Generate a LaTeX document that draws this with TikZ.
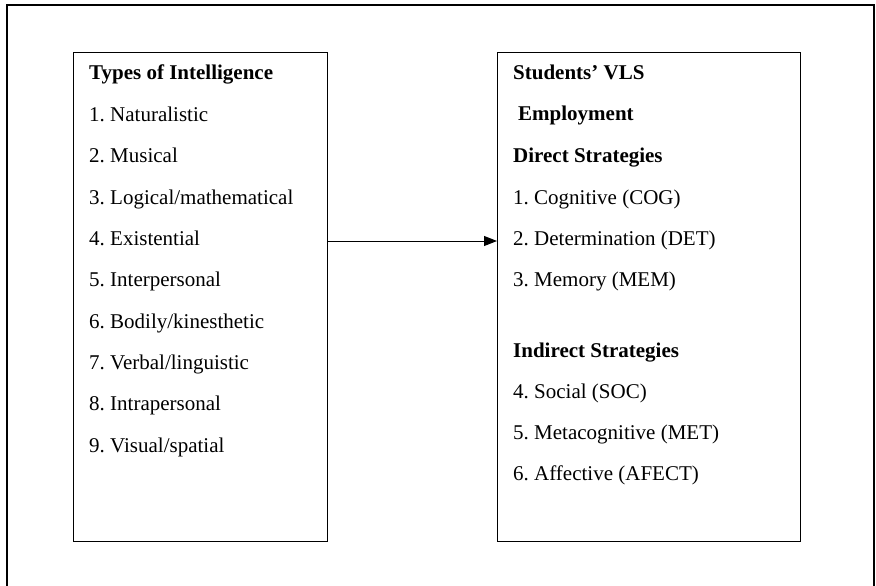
\documentclass[tikz,border=0pt]{standalone}
\usepackage{fontspec}
\setmainfont{Liberation Serif}
\usetikzlibrary{arrows.meta, positioning}
\frenchspacing

\begin{document}
\begin{tikzpicture}[x=1pt, y=-1pt,
  frame/.style={line width=2pt},
  box/.style={draw, line width=1.2pt, anchor=north west, inner sep=0pt,
              minimum height=489pt},
  item/.style={anchor=base west, inner sep=0pt, font=\fontsize{21}{25}\selectfont},
  head/.style={item, font=\fontsize{21}{25}\selectfont\bfseries},
  arr/.style={-{Triangle[length=13pt, width=10pt]}, line width=1pt},
]
\useasboundingbox (0,0) rectangle (876,586);
% open frame, its bottom edge is off the page
\draw[frame] (7,586) -- (7,5) -- (874,5) -- (874,586);

\node[box, minimum width=254pt] (intel) at (73,52) {};
\node[box, minimum width=303pt] (vls) at (497,52) {};

% left box: the intelligences
\node[head] (types) at (89,80) {Types of Intelligence};
\foreach \t [count=\i] in {Naturalistic, Musical, {Logical/mathematical}, Existential,
    Interpersonal, {Bodily/kinesthetic}, {Verbal/linguistic}, Intrapersonal,
    {Visual/spatial}}
  \node[item] (intel\i) at (89,80+41.35*\i) {\i. \t};

% right box: the strategies
\node[head] (vlshead) at (513,80) {Students' VLS};
\node[head] (employ) at (518,121) {Employment};
\node[head] (direct) at (513,162) {Direct Strategies};
\node[item] (cog) at (513,204) {1. Cognitive (COG)};
\node[item] (det) at (513,245) {2. Determination (DET)};
\node[item] (mem) at (513,286) {3. Memory (MEM)};
\node[head] (indirect) at (513,357) {Indirect Strategies};
\node[item] (soc) at (513,398) {4. Social (SOC)};
\node[item] (met) at (513,439) {5. Metacognitive (MET)};
\node[item] (afect) at (513,480) {6. Affective (AFECT)};

\coordinate (link) at (0,241);
\draw[arr] (intel.east |- link) -- (vls.west |- link);
\end{tikzpicture}
\end{document}
